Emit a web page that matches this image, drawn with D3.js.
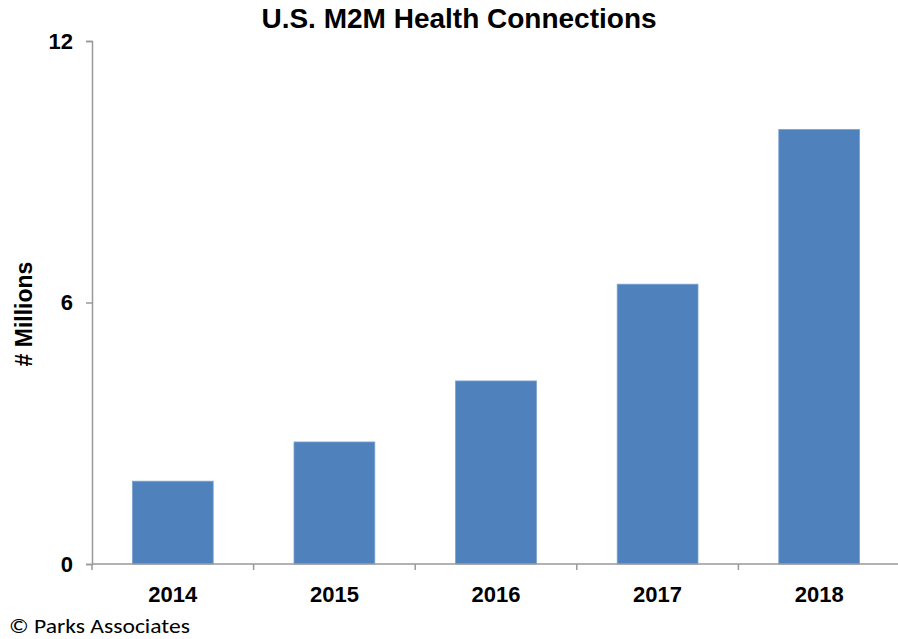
<!DOCTYPE html>
<html>
<head>
<meta charset="utf-8">
<script src="https://cdn.jsdelivr.net/npm/d3@7"></script>
<style>
  body { margin: 0; background: #fff; }
  text { font-family: Arial, "Liberation Sans", sans-serif; }
</style>
</head>
<body>
<div id="chart"></div>
<script>
const years = ['2014', '2015', '2016', '2017', '2018'];
const connections = [1.9, 2.8, 4.2, 6.42, 9.97];
const yTicks = [0, 6, 12];

const width = 898;
const height = 639;
const margin = { top: 41, right: -2, bottom: 75, left: 92 };

const svg = d3.select('#chart')
    .append('svg')
    .attr('width', width)
    .attr('height', height);

const xScale = d3.scaleBand()
    .domain(years)
    .range([margin.left, width - margin.right])
    .paddingInner(0.5)
    .paddingOuter(0.25);

const yScale = d3.scaleLinear()
    .domain([0, 12])
    .range([height - margin.bottom, margin.top]);

svg.selectAll('rect')
    .data(years)
    .enter()
    .append('rect')
    .attr('x', d => xScale(d))
    .attr('y', (d, i) => yScale(connections[i]))
    .attr('width', xScale.bandwidth())
    .attr('height', (d, i) => yScale(0) - yScale(connections[i]))
    .attr('fill', '#4f81bd')
    .attr('stroke', '#7aa0d0')
    .attr('stroke-width', 0.8);

// x axis: ticks sit at the category boundaries
const step = xScale.step();
const xAxis = svg.append('g')
    .attr('transform', `translate(0, ${yScale(0)})`);
xAxis.append('line')
    .attr('x1', margin.left).attr('x2', width)
    .attr('stroke', '#999').attr('stroke-width', 1.5);
xAxis.selectAll('.bound')
    .data(d3.range(years.length + 1))
    .enter()
    .append('line')
    .attr('x1', i => margin.left + i * step)
    .attr('x2', i => margin.left + i * step)
    .attr('y1', 0).attr('y2', 6)
    .attr('stroke', '#999').attr('stroke-width', 1.5);
xAxis.selectAll('.lbl')
    .data(years)
    .enter()
    .append('text')
    .attr('x', d => xScale(d) + xScale.bandwidth() / 2)
    .attr('y', 38)
    .attr('text-anchor', 'middle')
    .attr('font-size', 22)
    .attr('font-weight', 'bold')
    .text(d => d);

const yAxis = svg.append('g')
    .attr('transform', `translate(${margin.left}, 0)`)
    .call(d3.axisLeft(yScale).tickValues(yTicks).tickSize(6).tickPadding(13));
yAxis.select('.domain').attr('stroke', '#999').attr('stroke-width', 1.5);
yAxis.selectAll('.tick line').attr('stroke', '#999').attr('stroke-width', 1.5);
yAxis.selectAll('.tick text')
    .attr('font-size', 22)
    .attr('font-weight', 'bold')
    .attr('font-family', 'Arial, "Liberation Sans", sans-serif')
    .attr('fill', '#000');

svg.append('text')
    .attr('x', 459)
    .attr('y', 28)
    .attr('text-anchor', 'middle')
    .attr('font-size', 28)
    .attr('font-weight', 'bold')
    .text('U.S. M2M Health Connections');

svg.append('text')
    .attr('transform', 'translate(32, 314) rotate(-90)')
    .attr('text-anchor', 'middle')
    .attr('font-size', 23)
    .attr('font-weight', 'bold')
    .text('# Millions');

svg.append('text')
    .attr('x', 9)
    .attr('y', 633)
    .attr('font-size', 20)
    .attr('textLength', 181)
    .attr('lengthAdjust', 'spacingAndGlyphs')
    .style('font-family', 'Carlito, "Open Sans", sans-serif')
    .text('© Parks Associates');
</script>
</body>
</html>
